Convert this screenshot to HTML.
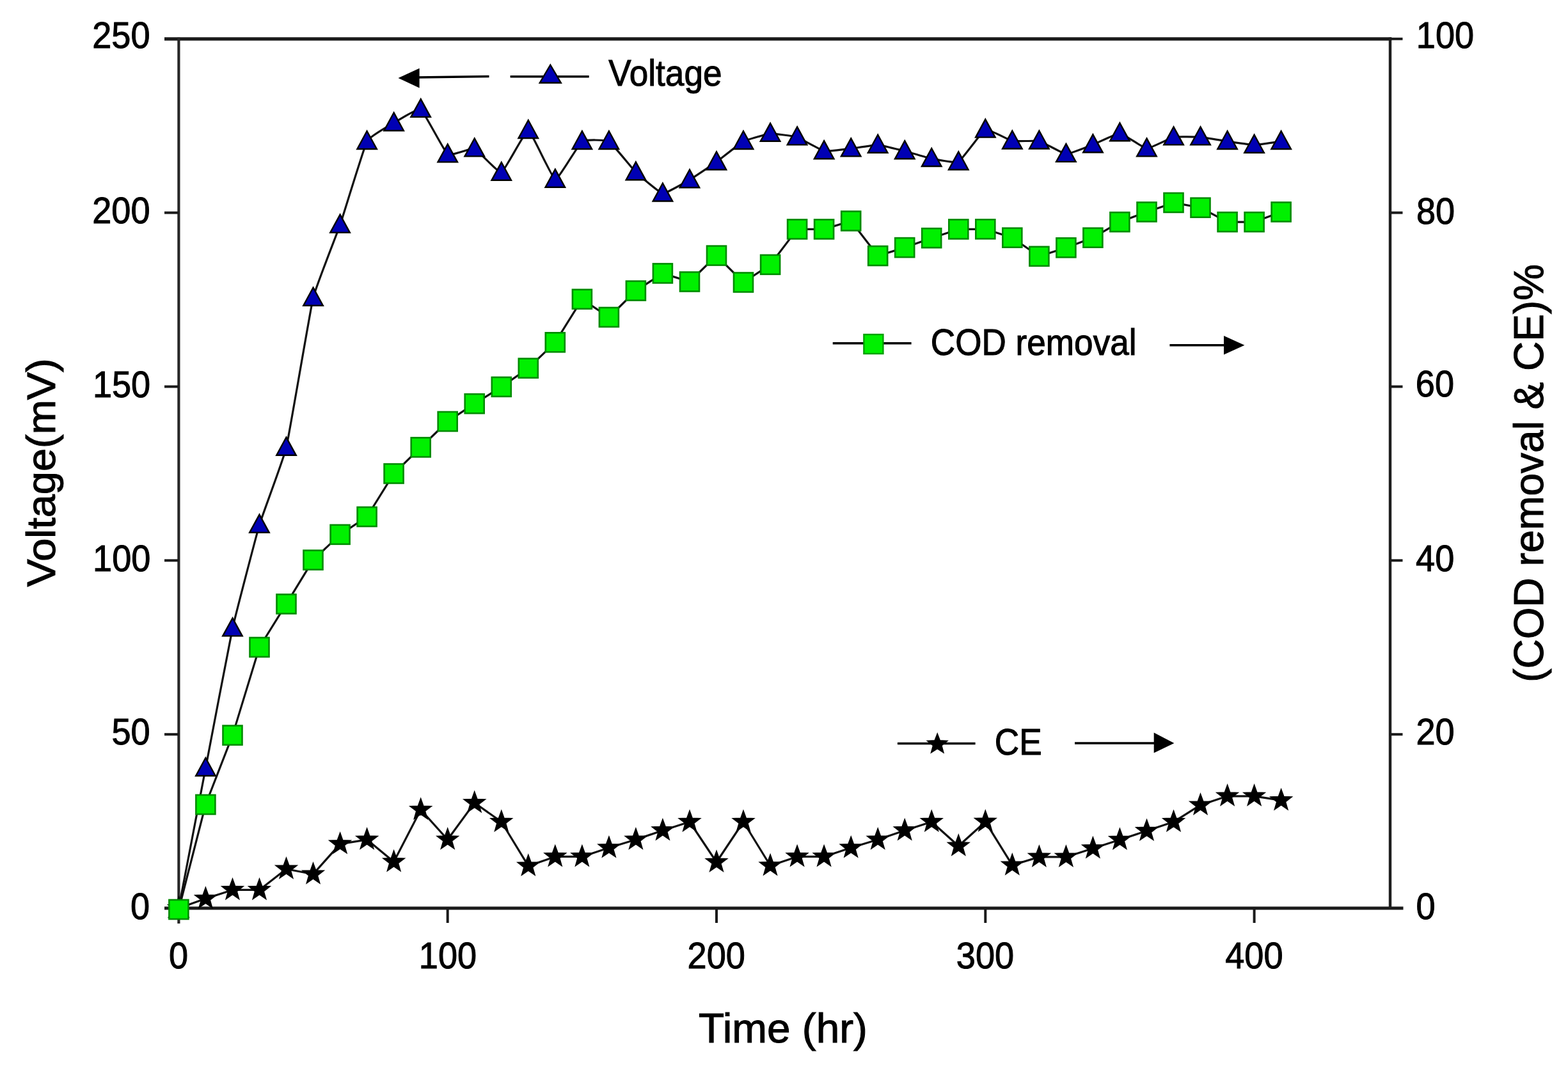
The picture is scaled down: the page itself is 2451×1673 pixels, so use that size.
<!DOCTYPE html><html><head><meta charset="utf-8"><title>Voltage, COD removal and CE vs Time</title>
<style>html,body{margin:0;padding:0;background:#fff;}svg{display:block;}text{font-family:"Liberation Sans",Arial,sans-serif;fill:#000;stroke:#000;stroke-width:1.1px;}</style></head><body>
<svg width="2451" height="1673" viewBox="0 0 2451 1673">
<rect width="2451" height="1673" fill="#fff"/>
<g stroke="#1a1a1a" fill="none" stroke-linecap="butt">
<line x1="257" y1="60.8" x2="2175.2" y2="60.8" stroke-width="5.2"/>
<line x1="257" y1="1420" x2="2193.5" y2="1420" stroke-width="5.0"/>
<line x1="279.4" y1="58.5" x2="279.4" y2="1444" stroke-width="4.2" stroke="#262626"/>
<line x1="2173.0" y1="58.5" x2="2173.0" y2="1422" stroke-width="4.4" stroke="#1e1e1e"/>
<line x1="257" y1="1148.2" x2="279.4" y2="1148.2" stroke-width="4"/>
<line x1="2173.0" y1="1148.2" x2="2192.5" y2="1148.2" stroke-width="4"/>
<line x1="257" y1="876.3" x2="279.4" y2="876.3" stroke-width="4"/>
<line x1="2173.0" y1="876.3" x2="2192.5" y2="876.3" stroke-width="4"/>
<line x1="257" y1="604.5" x2="279.4" y2="604.5" stroke-width="4"/>
<line x1="2173.0" y1="604.5" x2="2192.5" y2="604.5" stroke-width="4"/>
<line x1="257" y1="332.6" x2="279.4" y2="332.6" stroke-width="4"/>
<line x1="2173.0" y1="332.6" x2="2192.5" y2="332.6" stroke-width="4"/>
<line x1="2173.0" y1="60.8" x2="2192.5" y2="60.8" stroke-width="4"/>
<line x1="699.7" y1="1420" x2="699.7" y2="1443" stroke-width="4"/>
<line x1="1120.0" y1="1420" x2="1120.0" y2="1443" stroke-width="4"/>
<line x1="1540.3" y1="1420" x2="1540.3" y2="1443" stroke-width="4"/>
<line x1="1960.6" y1="1420" x2="1960.6" y2="1443" stroke-width="4"/>
</g>
<text transform="translate(144.20,75.28) scale(0.9021,0.9651)" font-size="60">250</text>
<text transform="translate(144.25,349.43) scale(0.9021,0.9651)" font-size="60">200</text>
<text transform="translate(144.89,620.78) scale(0.9021,0.9651)" font-size="60">150</text>
<text transform="translate(145.04,892.93) scale(0.9021,0.9651)" font-size="60">100</text>
<text transform="translate(174.53,1163.83) scale(0.9021,0.9651)" font-size="60">50</text>
<text transform="translate(204.01,1436.98) scale(0.9021,0.9651)" font-size="60">0</text>
<text transform="translate(2213.84,75.03) scale(0.9021,0.9651)" font-size="60">100</text>
<text transform="translate(2214.03,349.58) scale(0.9021,0.9651)" font-size="60">80</text>
<text transform="translate(2212.83,620.13) scale(0.9021,0.9651)" font-size="60">60</text>
<text transform="translate(2213.08,893.08) scale(0.9021,0.9651)" font-size="60">40</text>
<text transform="translate(2213.43,1164.23) scale(0.9021,0.9651)" font-size="60">20</text>
<text transform="translate(2213.61,1436.83) scale(0.9021,0.9651)" font-size="60">0</text>
<text transform="translate(264.01,1513.78) scale(0.9021,0.9651)" font-size="60">0</text>
<text transform="translate(654.79,1514.13) scale(0.9021,0.9651)" font-size="60">100</text>
<text transform="translate(1074.60,1513.93) scale(0.9021,0.9651)" font-size="60">200</text>
<text transform="translate(1494.80,1514.28) scale(0.9021,0.9651)" font-size="60">300</text>
<text transform="translate(1915.20,1514.48) scale(0.9021,0.9651)" font-size="60">400</text>
<text transform="translate(1092.10,1630.03) scale(0.9954,0.9839)" font-size="66">Time (hr)</text>
<text transform="translate(85.54,917.60) scale(0.9641,0.9842) rotate(-90)" font-size="66">Voltage(mV)</text>
<text transform="translate(2411.93,1066.78) scale(0.9781,0.9692) rotate(-90)" font-size="66">(COD removal &amp; CE)%</text>
<text transform="translate(951.25,134.29) scale(0.9162,0.9791)" font-size="58">Voltage</text>
<text transform="translate(1454.77,554.72) scale(0.9162,0.9791)" font-size="58">COD removal</text>
<text transform="translate(1554.79,1180.08) scale(0.9162,0.9791)" font-size="58">CE</text>
<g fill="none" stroke="#111" stroke-width="3.2" stroke-linejoin="round">
<path d="M279.4,1420.0 C281.5,1409.0 317.2,1222.9 321.4,1201.0 C325.6,1179.1 359.3,1001.4 363.5,982.4 C367.7,963.4 401.3,834.7 405.5,820.6 C409.7,806.5 443.3,717.5 447.5,699.8 C451.7,682.1 485.3,483.1 489.5,465.7 C493.8,448.3 527.4,363.8 531.6,351.6 C535.8,339.4 569.4,229.0 573.6,221.0 C577.8,213.0 611.4,194.7 615.6,192.2 C619.8,189.7 653.5,168.4 657.7,170.9 C661.9,173.4 695.5,238.3 699.7,241.4 C703.9,244.5 737.5,231.0 741.7,232.4 C745.9,233.8 779.6,271.2 783.8,269.8 C788.0,268.4 821.6,203.5 825.8,204.0 C830.0,204.5 863.6,279.8 867.8,280.7 C872.0,281.6 905.6,224.0 909.9,221.0 C914.1,218.0 947.7,218.6 951.9,221.0 C956.1,223.4 989.7,265.2 993.9,269.3 C998.1,273.4 1031.7,301.9 1035.9,302.5 C1040.1,303.1 1073.8,283.7 1078.0,281.2 C1082.2,278.7 1115.8,256.2 1120.0,253.2 C1124.2,250.2 1157.8,223.2 1162.0,221.0 C1166.2,218.8 1199.9,209.1 1204.1,208.8 C1208.3,208.5 1241.9,213.0 1246.1,214.4 C1250.3,215.8 1283.9,235.3 1288.1,236.2 C1292.3,237.1 1325.9,232.9 1330.2,232.4 C1334.4,231.9 1368.0,226.5 1372.2,226.7 C1376.4,226.9 1410.0,235.1 1414.2,236.2 C1418.4,237.3 1452.0,247.2 1456.2,248.0 C1460.4,248.8 1494.1,255.5 1498.3,253.2 C1502.5,250.9 1536.1,204.2 1540.3,202.6 C1544.5,201.0 1578.1,219.6 1582.3,220.5 C1586.5,221.4 1620.2,219.5 1624.4,220.5 C1628.6,221.5 1662.2,240.6 1666.4,240.9 C1670.6,241.2 1704.2,227.9 1708.4,226.3 C1712.6,224.7 1746.2,208.0 1750.4,208.3 C1754.7,208.6 1788.3,232.1 1792.5,232.4 C1796.7,232.7 1830.3,215.3 1834.5,214.4 C1838.7,213.5 1872.3,214.1 1876.5,214.4 C1880.7,214.7 1914.4,220.4 1918.6,221.0 C1922.8,221.6 1956.4,226.7 1960.6,226.7 C1964.8,226.7 2000.5,221.3 2002.6,221.0"/>
<path d="M279.4,1420.0 C279.4,1420.0 321.4,1405.0 321.4,1405.0 C321.4,1405.0 363.5,1391.4 363.5,1391.4 C363.5,1391.4 405.5,1391.4 405.5,1391.4 C405.5,1391.4 447.5,1358.7 447.5,1358.7 C447.5,1358.7 489.5,1366.7 489.5,1366.7 C489.5,1366.7 531.6,1319.6 531.6,1319.6 C531.6,1319.6 573.6,1312.8 573.6,1312.8 C573.6,1312.8 615.6,1347.5 615.6,1347.5 C615.6,1347.5 657.7,1266.0 657.7,1266.0 C657.7,1266.0 699.7,1312.8 699.7,1312.8 C699.7,1312.8 741.7,1255.3 741.7,1255.3 C741.7,1255.3 783.8,1285.0 783.8,1285.0 C783.8,1285.0 825.8,1353.9 825.8,1353.9 C825.8,1353.9 867.8,1339.4 867.8,1339.4 C867.8,1339.4 909.9,1339.4 909.9,1339.4 C909.9,1339.4 951.9,1325.6 951.9,1325.6 C951.9,1325.6 993.9,1312.8 993.9,1312.8 C993.9,1312.8 1035.9,1298.4 1035.9,1298.4 C1035.9,1298.4 1078.0,1285.0 1078.0,1285.0 C1078.0,1285.0 1120.0,1348.0 1120.0,1348.0 C1120.0,1348.0 1162.0,1285.0 1162.0,1285.0 C1162.0,1285.0 1204.1,1353.5 1204.1,1353.5 C1204.1,1353.5 1246.1,1339.4 1246.1,1339.4 C1246.1,1339.4 1288.1,1339.4 1288.1,1339.4 C1288.1,1339.4 1330.2,1325.6 1330.2,1325.6 C1330.2,1325.6 1372.2,1312.8 1372.2,1312.8 C1372.2,1312.8 1414.2,1298.4 1414.2,1298.4 C1414.2,1298.4 1456.2,1285.0 1456.2,1285.0 C1456.2,1285.0 1498.3,1322.8 1498.3,1322.8 C1498.3,1322.8 1540.3,1284.8 1540.3,1284.8 C1540.3,1284.8 1582.3,1352.7 1582.3,1352.7 C1582.3,1352.7 1624.4,1339.9 1624.4,1339.9 C1624.4,1339.9 1666.4,1339.9 1666.4,1339.9 C1666.4,1339.9 1708.4,1326.5 1708.4,1326.5 C1708.4,1326.5 1750.4,1313.0 1750.4,1313.0 C1750.4,1313.0 1792.5,1299.1 1792.5,1299.1 C1792.5,1299.1 1834.5,1285.1 1834.5,1285.1 C1834.5,1285.1 1876.5,1258.7 1876.5,1258.7 C1876.5,1258.7 1918.6,1244.8 1918.6,1244.8 C1918.6,1244.8 1960.6,1244.8 1960.6,1244.8 C1960.6,1244.8 2002.6,1251.4 2002.6,1251.4"/>
<path d="M279.4,1422.0 C279.4,1422.0 321.4,1258.0 321.4,1258.0 C321.4,1258.0 363.5,1149.6 363.5,1149.6 C363.5,1149.6 405.5,1012.0 405.5,1012.0 C405.5,1012.0 447.5,944.4 447.5,944.4 C447.5,944.4 489.5,875.6 489.5,875.6 C489.5,875.6 531.6,835.8 531.6,835.8 C531.6,835.8 573.6,808.0 573.6,808.0 C573.6,808.0 615.6,740.5 615.6,740.5 C615.6,740.5 657.7,699.4 657.7,699.4 C657.7,699.4 699.7,659.0 699.7,659.0 C699.7,659.0 741.7,631.2 741.7,631.2 C741.7,631.2 783.8,604.9 783.8,604.9 C783.8,604.9 825.8,575.7 825.8,575.7 C825.8,575.7 867.8,535.3 867.8,535.3 C867.8,535.3 909.9,467.8 909.9,467.8 C909.9,467.8 951.9,496.0 951.9,496.0 C951.9,496.0 993.9,454.6 993.9,454.6 C993.9,454.6 1035.9,427.4 1035.9,427.4 C1035.9,427.4 1078.0,440.5 1078.0,440.5 C1078.0,440.5 1120.0,399.6 1120.0,399.6 C1120.0,399.6 1162.0,441.5 1162.0,441.5 C1162.0,441.5 1204.1,413.8 1204.1,413.8 C1204.1,413.8 1246.1,358.4 1246.1,358.4 C1246.1,358.4 1288.1,358.4 1288.1,358.4 C1288.1,358.4 1330.2,345.5 1330.2,345.5 C1330.2,345.5 1372.2,400.0 1372.2,400.0 C1372.2,400.0 1414.2,387.1 1414.2,387.1 C1414.2,387.1 1456.2,372.2 1456.2,372.2 C1456.2,372.2 1498.3,358.4 1498.3,358.4 C1498.3,358.4 1540.3,358.3 1540.3,358.3 C1540.3,358.3 1582.3,371.7 1582.3,371.7 C1582.3,371.7 1624.4,400.8 1624.4,400.8 C1624.4,400.8 1666.4,387.3 1666.4,387.3 C1666.4,387.3 1708.4,371.7 1708.4,371.7 C1708.4,371.7 1750.4,347.1 1750.4,347.1 C1750.4,347.1 1792.5,331.4 1792.5,331.4 C1792.5,331.4 1834.5,316.9 1834.5,316.9 C1834.5,316.9 1876.5,324.7 1876.5,324.7 C1876.5,324.7 1918.6,347.1 1918.6,347.1 C1918.6,347.1 1960.6,347.1 1960.6,347.1 C1960.6,347.1 2002.6,331.4 2002.6,331.4"/>
</g>
<g fill="#0000b4" stroke="#000" stroke-width="2.4" stroke-linejoin="miter">
<polygon points="279.4,1406.0 294.6,1434.0 264.1,1434.0"/>
<polygon points="321.4,1185.0 336.7,1213.0 306.2,1213.0"/>
<polygon points="363.5,966.4 378.7,994.4 348.2,994.4"/>
<polygon points="405.5,804.6 420.7,832.6 390.2,832.6"/>
<polygon points="447.5,683.8 462.8,711.8 432.3,711.8"/>
<polygon points="489.5,449.7 504.8,477.7 474.3,477.7"/>
<polygon points="531.6,335.6 546.8,363.6 516.3,363.6"/>
<polygon points="573.6,205.0 588.9,233.0 558.4,233.0"/>
<polygon points="615.6,176.2 630.9,204.2 600.4,204.2"/>
<polygon points="657.7,154.9 672.9,182.9 642.4,182.9"/>
<polygon points="699.7,225.4 715.0,253.4 684.5,253.4"/>
<polygon points="741.7,216.4 757.0,244.4 726.5,244.4"/>
<polygon points="783.8,253.8 799.0,281.8 768.5,281.8"/>
<polygon points="825.8,188.0 841.0,216.0 810.5,216.0"/>
<polygon points="867.8,264.7 883.1,292.7 852.6,292.7"/>
<polygon points="909.9,205.0 925.1,233.0 894.6,233.0"/>
<polygon points="951.9,205.0 967.1,233.0 936.6,233.0"/>
<polygon points="993.9,253.3 1009.2,281.3 978.7,281.3"/>
<polygon points="1035.9,286.5 1051.2,314.5 1020.7,314.5"/>
<polygon points="1078.0,265.2 1093.2,293.2 1062.7,293.2"/>
<polygon points="1120.0,237.2 1135.2,265.2 1104.8,265.2"/>
<polygon points="1162.0,205.0 1177.3,233.0 1146.8,233.0"/>
<polygon points="1204.1,192.8 1219.3,220.8 1188.8,220.8"/>
<polygon points="1246.1,198.4 1261.3,226.4 1230.8,226.4"/>
<polygon points="1288.1,220.2 1303.4,248.2 1272.9,248.2"/>
<polygon points="1330.2,216.4 1345.4,244.4 1314.9,244.4"/>
<polygon points="1372.2,210.7 1387.4,238.7 1356.9,238.7"/>
<polygon points="1414.2,220.2 1429.5,248.2 1399.0,248.2"/>
<polygon points="1456.2,232.0 1471.5,260.0 1441.0,260.0"/>
<polygon points="1498.3,237.2 1513.5,265.2 1483.0,265.2"/>
<polygon points="1540.3,186.6 1555.6,214.6 1525.1,214.6"/>
<polygon points="1582.3,204.5 1597.6,232.5 1567.1,232.5"/>
<polygon points="1624.4,204.5 1639.6,232.5 1609.1,232.5"/>
<polygon points="1666.4,224.9 1681.6,252.9 1651.1,252.9"/>
<polygon points="1708.4,210.3 1723.7,238.3 1693.2,238.3"/>
<polygon points="1750.4,192.3 1765.7,220.3 1735.2,220.3"/>
<polygon points="1792.5,216.4 1807.7,244.4 1777.2,244.4"/>
<polygon points="1834.5,198.4 1849.8,226.4 1819.3,226.4"/>
<polygon points="1876.5,198.4 1891.8,226.4 1861.3,226.4"/>
<polygon points="1918.6,205.0 1933.8,233.0 1903.3,233.0"/>
<polygon points="1960.6,210.7 1975.8,238.7 1945.3,238.7"/>
<polygon points="2002.6,205.0 2017.9,233.0 1987.4,233.0"/>
</g>
<g fill="#000" stroke="#000" stroke-width="1.5" stroke-linejoin="miter">
<polygon points="279.4,1402.5 283.6,1414.2 296.0,1414.6 286.2,1422.2 289.7,1434.2 279.4,1427.2 269.1,1434.2 272.6,1422.2 262.8,1414.6 275.2,1414.2"/>
<polygon points="321.4,1387.5 325.7,1399.2 338.1,1399.6 328.3,1407.2 331.7,1419.2 321.4,1412.2 311.1,1419.2 314.6,1407.2 304.8,1399.6 317.2,1399.2"/>
<polygon points="363.5,1373.9 367.7,1385.6 380.1,1386.0 370.3,1393.6 373.7,1405.6 363.5,1398.6 353.2,1405.6 356.6,1393.6 346.8,1386.0 359.2,1385.6"/>
<polygon points="405.5,1373.9 409.7,1385.6 422.1,1386.0 412.3,1393.6 415.8,1405.6 405.5,1398.6 395.2,1405.6 398.6,1393.6 388.8,1386.0 401.3,1385.6"/>
<polygon points="447.5,1341.2 451.8,1352.9 464.2,1353.3 454.4,1360.9 457.8,1372.9 447.5,1365.9 437.2,1372.9 440.7,1360.9 430.9,1353.3 443.3,1352.9"/>
<polygon points="489.5,1349.2 493.8,1360.9 506.2,1361.3 496.4,1368.9 499.8,1380.9 489.5,1373.9 479.3,1380.9 482.7,1368.9 472.9,1361.3 485.3,1360.9"/>
<polygon points="531.6,1302.1 535.8,1313.8 548.2,1314.2 538.4,1321.8 541.9,1333.8 531.6,1326.8 521.3,1333.8 524.7,1321.8 514.9,1314.2 527.3,1313.8"/>
<polygon points="573.6,1295.3 577.8,1307.0 590.3,1307.4 580.5,1315.0 583.9,1327.0 573.6,1320.0 563.3,1327.0 566.8,1315.0 557.0,1307.4 569.4,1307.0"/>
<polygon points="615.6,1330.0 619.9,1341.7 632.3,1342.1 622.5,1349.7 625.9,1361.7 615.6,1354.7 605.4,1361.7 608.8,1349.7 599.0,1342.1 611.4,1341.7"/>
<polygon points="657.7,1248.5 661.9,1260.2 674.3,1260.6 664.5,1268.2 668.0,1280.2 657.7,1273.2 647.4,1280.2 650.8,1268.2 641.0,1260.6 653.4,1260.2"/>
<polygon points="699.7,1295.3 703.9,1307.0 716.3,1307.4 706.5,1315.0 710.0,1327.0 699.7,1320.0 689.4,1327.0 692.9,1315.0 683.1,1307.4 695.5,1307.0"/>
<polygon points="741.7,1237.8 746.0,1249.5 758.4,1249.9 748.6,1257.5 752.0,1269.5 741.7,1262.5 731.4,1269.5 734.9,1257.5 725.1,1249.9 737.5,1249.5"/>
<polygon points="783.8,1267.5 788.0,1279.2 800.4,1279.6 790.6,1287.2 794.0,1299.2 783.8,1292.2 773.5,1299.2 776.9,1287.2 767.1,1279.6 779.5,1279.2"/>
<polygon points="825.8,1336.4 830.0,1348.1 842.4,1348.5 832.6,1356.1 836.1,1368.1 825.8,1361.1 815.5,1368.1 818.9,1356.1 809.1,1348.5 821.6,1348.1"/>
<polygon points="867.8,1321.9 872.1,1333.6 884.5,1334.0 874.7,1341.6 878.1,1353.6 867.8,1346.6 857.5,1353.6 861.0,1341.6 851.2,1334.0 863.6,1333.6"/>
<polygon points="909.9,1321.9 914.1,1333.6 926.5,1334.0 916.7,1341.6 920.1,1353.6 909.9,1346.6 899.6,1353.6 903.0,1341.6 893.2,1334.0 905.6,1333.6"/>
<polygon points="951.9,1308.1 956.1,1319.8 968.5,1320.2 958.7,1327.8 962.2,1339.8 951.9,1332.8 941.6,1339.8 945.0,1327.8 935.2,1320.2 947.6,1319.8"/>
<polygon points="993.9,1295.3 998.1,1307.0 1010.6,1307.4 1000.8,1315.0 1004.2,1327.0 993.9,1320.0 983.6,1327.0 987.1,1315.0 977.3,1307.4 989.7,1307.0"/>
<polygon points="1035.9,1280.9 1040.2,1292.6 1052.6,1293.0 1042.8,1300.6 1046.2,1312.6 1035.9,1305.6 1025.7,1312.6 1029.1,1300.6 1019.3,1293.0 1031.7,1292.6"/>
<polygon points="1078.0,1267.5 1082.2,1279.2 1094.6,1279.6 1084.8,1287.2 1088.3,1299.2 1078.0,1292.2 1067.7,1299.2 1071.1,1287.2 1061.3,1279.6 1073.7,1279.2"/>
<polygon points="1120.0,1330.5 1124.2,1342.2 1136.6,1342.6 1126.8,1350.2 1130.3,1362.2 1120.0,1355.2 1109.7,1362.2 1113.2,1350.2 1103.4,1342.6 1115.8,1342.2"/>
<polygon points="1162.0,1267.5 1166.3,1279.2 1178.7,1279.6 1168.9,1287.2 1172.3,1299.2 1162.0,1292.2 1151.7,1299.2 1155.2,1287.2 1145.4,1279.6 1157.8,1279.2"/>
<polygon points="1204.1,1336.0 1208.3,1347.7 1220.7,1348.1 1210.9,1355.7 1214.3,1367.7 1204.1,1360.7 1193.8,1367.7 1197.2,1355.7 1187.4,1348.1 1199.8,1347.7"/>
<polygon points="1246.1,1321.9 1250.3,1333.6 1262.7,1334.0 1252.9,1341.6 1256.4,1353.6 1246.1,1346.6 1235.8,1353.6 1239.2,1341.6 1229.4,1334.0 1241.9,1333.6"/>
<polygon points="1288.1,1321.9 1292.4,1333.6 1304.8,1334.0 1295.0,1341.6 1298.4,1353.6 1288.1,1346.6 1277.8,1353.6 1281.3,1341.6 1271.5,1334.0 1283.9,1333.6"/>
<polygon points="1330.2,1308.1 1334.4,1319.8 1346.8,1320.2 1337.0,1327.8 1340.4,1339.8 1330.2,1332.8 1319.9,1339.8 1323.3,1327.8 1313.5,1320.2 1325.9,1319.8"/>
<polygon points="1372.2,1295.3 1376.4,1307.0 1388.8,1307.4 1379.0,1315.0 1382.5,1327.0 1372.2,1320.0 1361.9,1327.0 1365.3,1315.0 1355.5,1307.4 1367.9,1307.0"/>
<polygon points="1414.2,1280.9 1418.4,1292.6 1430.9,1293.0 1421.1,1300.6 1424.5,1312.6 1414.2,1305.6 1403.9,1312.6 1407.4,1300.6 1397.6,1293.0 1410.0,1292.6"/>
<polygon points="1456.2,1267.5 1460.5,1279.2 1472.9,1279.6 1463.1,1287.2 1466.5,1299.2 1456.2,1292.2 1446.0,1299.2 1449.4,1287.2 1439.6,1279.6 1452.0,1279.2"/>
<polygon points="1498.3,1305.3 1502.5,1317.0 1514.9,1317.4 1505.1,1325.0 1508.6,1337.0 1498.3,1330.0 1488.0,1337.0 1491.4,1325.0 1481.6,1317.4 1494.0,1317.0"/>
<polygon points="1540.3,1267.3 1544.5,1279.0 1556.9,1279.4 1547.1,1287.0 1550.6,1299.0 1540.3,1292.0 1530.0,1299.0 1533.5,1287.0 1523.7,1279.4 1536.1,1279.0"/>
<polygon points="1582.3,1335.2 1586.6,1346.9 1599.0,1347.3 1589.2,1354.9 1592.6,1366.9 1582.3,1359.9 1572.0,1366.9 1575.5,1354.9 1565.7,1347.3 1578.1,1346.9"/>
<polygon points="1624.4,1322.4 1628.6,1334.1 1641.0,1334.5 1631.2,1342.1 1634.6,1354.1 1624.4,1347.1 1614.1,1354.1 1617.5,1342.1 1607.7,1334.5 1620.1,1334.1"/>
<polygon points="1666.4,1322.4 1670.6,1334.1 1683.0,1334.5 1673.2,1342.1 1676.7,1354.1 1666.4,1347.1 1656.1,1354.1 1659.5,1342.1 1649.7,1334.5 1662.2,1334.1"/>
<polygon points="1708.4,1309.0 1712.7,1320.7 1725.1,1321.1 1715.3,1328.7 1718.7,1340.7 1708.4,1333.7 1698.1,1340.7 1701.6,1328.7 1691.8,1321.1 1704.2,1320.7"/>
<polygon points="1750.4,1295.5 1754.7,1307.2 1767.1,1307.6 1757.3,1315.2 1760.7,1327.2 1750.4,1320.2 1740.2,1327.2 1743.6,1315.2 1733.8,1307.6 1746.2,1307.2"/>
<polygon points="1792.5,1281.6 1796.7,1293.3 1809.1,1293.7 1799.3,1301.3 1802.8,1313.3 1792.5,1306.3 1782.2,1313.3 1785.6,1301.3 1775.8,1293.7 1788.2,1293.3"/>
<polygon points="1834.5,1267.6 1838.7,1279.3 1851.2,1279.7 1841.4,1287.3 1844.8,1299.3 1834.5,1292.3 1824.2,1299.3 1827.7,1287.3 1817.9,1279.7 1830.3,1279.3"/>
<polygon points="1876.5,1241.2 1880.8,1252.9 1893.2,1253.3 1883.4,1260.9 1886.8,1272.9 1876.5,1265.9 1866.3,1272.9 1869.7,1260.9 1859.9,1253.3 1872.3,1252.9"/>
<polygon points="1918.6,1227.3 1922.8,1239.0 1935.2,1239.4 1925.4,1247.0 1928.9,1259.0 1918.6,1252.0 1908.3,1259.0 1911.7,1247.0 1901.9,1239.4 1914.3,1239.0"/>
<polygon points="1960.6,1227.3 1964.8,1239.0 1977.2,1239.4 1967.4,1247.0 1970.9,1259.0 1960.6,1252.0 1950.3,1259.0 1953.8,1247.0 1944.0,1239.4 1956.4,1239.0"/>
<polygon points="2002.6,1233.9 2006.9,1245.6 2019.3,1246.0 2009.5,1253.6 2012.9,1265.6 2002.6,1258.6 1992.3,1265.6 1995.8,1253.6 1986.0,1246.0 1998.4,1245.6"/>
</g>
<g fill="#00f000" stroke="#008c00" stroke-width="2.6">
<rect x="264.4" y="1407.0" width="30.0" height="30.0"/>
<rect x="306.4" y="1243.0" width="30.0" height="30.0"/>
<rect x="348.5" y="1134.6" width="30.0" height="30.0"/>
<rect x="390.5" y="997.0" width="30.0" height="30.0"/>
<rect x="432.5" y="929.4" width="30.0" height="30.0"/>
<rect x="474.5" y="860.6" width="30.0" height="30.0"/>
<rect x="516.6" y="820.8" width="30.0" height="30.0"/>
<rect x="558.6" y="793.0" width="30.0" height="30.0"/>
<rect x="600.6" y="725.5" width="30.0" height="30.0"/>
<rect x="642.7" y="684.4" width="30.0" height="30.0"/>
<rect x="684.7" y="644.0" width="30.0" height="30.0"/>
<rect x="726.7" y="616.2" width="30.0" height="30.0"/>
<rect x="768.8" y="589.9" width="30.0" height="30.0"/>
<rect x="810.8" y="560.7" width="30.0" height="30.0"/>
<rect x="852.8" y="520.3" width="30.0" height="30.0"/>
<rect x="894.9" y="452.8" width="30.0" height="30.0"/>
<rect x="936.9" y="481.0" width="30.0" height="30.0"/>
<rect x="978.9" y="439.6" width="30.0" height="30.0"/>
<rect x="1020.9" y="412.4" width="30.0" height="30.0"/>
<rect x="1063.0" y="425.5" width="30.0" height="30.0"/>
<rect x="1105.0" y="384.6" width="30.0" height="30.0"/>
<rect x="1147.0" y="426.5" width="30.0" height="30.0"/>
<rect x="1189.1" y="398.8" width="30.0" height="30.0"/>
<rect x="1231.1" y="343.4" width="30.0" height="30.0"/>
<rect x="1273.1" y="343.4" width="30.0" height="30.0"/>
<rect x="1315.2" y="330.5" width="30.0" height="30.0"/>
<rect x="1357.2" y="385.0" width="30.0" height="30.0"/>
<rect x="1399.2" y="372.1" width="30.0" height="30.0"/>
<rect x="1441.2" y="357.2" width="30.0" height="30.0"/>
<rect x="1483.3" y="343.4" width="30.0" height="30.0"/>
<rect x="1525.3" y="343.3" width="30.0" height="30.0"/>
<rect x="1567.3" y="356.7" width="30.0" height="30.0"/>
<rect x="1609.4" y="385.8" width="30.0" height="30.0"/>
<rect x="1651.4" y="372.3" width="30.0" height="30.0"/>
<rect x="1693.4" y="356.7" width="30.0" height="30.0"/>
<rect x="1735.4" y="332.1" width="30.0" height="30.0"/>
<rect x="1777.5" y="316.4" width="30.0" height="30.0"/>
<rect x="1819.5" y="301.9" width="30.0" height="30.0"/>
<rect x="1861.5" y="309.7" width="30.0" height="30.0"/>
<rect x="1903.6" y="332.1" width="30.0" height="30.0"/>
<rect x="1945.6" y="332.1" width="30.0" height="30.0"/>
<rect x="1987.6" y="316.4" width="30.0" height="30.0"/>
</g>
<g stroke="#000" stroke-width="3.4" fill="none">
<line x1="652" y1="121" x2="764.5" y2="119.5"/>
<line x1="797.6" y1="119.7" x2="920.7" y2="119.7"/>
<line x1="1301.7" y1="536.8" x2="1424.6" y2="536.8"/>
<line x1="1828.4" y1="539.7" x2="1915" y2="539.7"/>
<line x1="1402.9" y1="1162.5" x2="1524.6" y2="1162.5"/>
<line x1="1680" y1="1162" x2="1806" y2="1162"/>
</g>
<g fill="#000">
<polygon points="622.5,122 655.6,106.7 655.6,137.4"/>
<polygon points="1945.4,539.7 1913,525 1913,554.4"/>
<polygon points="1835.4,1161.9 1803.7,1145.6 1803.7,1177.3"/>
</g>
<g fill="#0000b4" stroke="#000" stroke-width="2.4"><polygon points="860.3,101.5 876.8,129.5 843.8,129.5"/></g>
<g fill="#00f000" stroke="#00a000" stroke-width="2.4"><rect x="1350.4" y="523.0" width="30.0" height="30.0"/></g>
<g fill="#000" stroke="#000" stroke-width="1.5"><polygon points="1465.2,1147.0 1469.3,1157.8 1480.9,1158.4 1471.9,1165.7 1474.9,1176.8 1465.2,1170.5 1455.5,1176.8 1458.5,1165.7 1449.5,1158.4 1461.1,1157.8"/></g>
</svg></body></html>
